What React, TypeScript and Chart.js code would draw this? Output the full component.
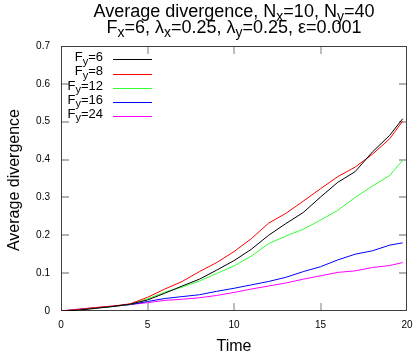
import React, { useEffect, useRef } from "react";
import { Chart, registerables } from "chart.js";

Chart.register(...registerables);

const times = [0, 1, 2, 3, 4, 5, 6, 7, 8, 9, 10, 11, 12, 13, 14, 15, 16, 17, 18, 19, 19.75];
const fy6 = [0, 0.002, 0.007, 0.012, 0.018, 0.029, 0.047, 0.066, 0.084, 0.108, 0.133, 0.163, 0.2, 0.231, 0.26, 0.301, 0.34, 0.368, 0.42, 0.464, 0.508];
const fy8 = [0, 0.004, 0.009, 0.013, 0.019, 0.036, 0.058, 0.078, 0.104, 0.128, 0.157, 0.191, 0.232, 0.258, 0.29, 0.323, 0.355, 0.38, 0.414, 0.455, 0.502];
const fy12 = [0, 0.003, 0.008, 0.012, 0.018, 0.032, 0.05, 0.063, 0.079, 0.099, 0.119, 0.145, 0.178, 0.198, 0.216, 0.24, 0.266, 0.3, 0.33, 0.358, 0.398];
const fy16 = [0, 0.004, 0.008, 0.012, 0.017, 0.025, 0.033, 0.038, 0.043, 0.052, 0.06, 0.069, 0.078, 0.089, 0.104, 0.117, 0.135, 0.15, 0.159, 0.174, 0.18];
const fy24 = [0, 0.005, 0.009, 0.013, 0.017, 0.022, 0.028, 0.031, 0.035, 0.041, 0.049, 0.058, 0.066, 0.074, 0.084, 0.093, 0.102, 0.106, 0.115, 0.12, 0.128];

const seriesLabels = ["6", "8", "12", "16", "24"];
const seriesColors = ["#000000", "#ff0000", "#33ff33", "#0000ff", "#ff00ff"];
const seriesData = [fy6, fy8, fy12, fy16, fy24];

const xTicks = [0, 5, 10, 15, 20];
const yTicks = [0, 0.1, 0.2, 0.3, 0.4, 0.5, 0.6, 0.7];

const FONT = "'Liberation Sans', Arial, sans-serif";

type Seg = { t: string; sub?: boolean };

function drawRich(ctx: CanvasRenderingContext2D, segs: Seg[], x: number, y: number, size: number, subSize: number, subDy: number, align: "center" | "right" | "left") {
  ctx.save();
  ctx.textBaseline = "alphabetic";
  ctx.textAlign = "left";
  let total = 0;
  for (const s of segs) {
    ctx.font = `${s.sub ? subSize : size}px ${FONT}`;
    total += ctx.measureText(s.t).width;
  }
  let cx = align === "center" ? x - total / 2 : align === "right" ? x - total : x;
  for (const s of segs) {
    ctx.font = `${s.sub ? subSize : size}px ${FONT}`;
    ctx.fillText(s.t, cx, s.sub ? y + subDy : y);
    cx += ctx.measureText(s.t).width;
  }
  ctx.restore();
}

const decorPlugin = {
  id: "decor",
  beforeDatasetsDraw(chart: any) {
    const { ctx, chartArea } = chart;
    const { left, right, top, bottom } = chartArea;
    const xs = chart.scales.x;
    const ys = chart.scales.y;
    ctx.save();
    ctx.strokeStyle = "#999999";
    ctx.lineWidth = 1.3;
    const tl = 8;
    for (const v of yTicks) {
      if (v === 0 || v === 0.7) continue;
      const py = Math.round(ys.getPixelForValue(v));
      ctx.beginPath();
      ctx.moveTo(left, py);
      ctx.lineTo(left + tl, py);
      ctx.moveTo(right, py);
      ctx.lineTo(right - tl, py);
      ctx.stroke();
    }
    for (const v of xTicks) {
      if (v === 0 || v === 20) continue;
      const px = Math.round(xs.getPixelForValue(v));
      ctx.beginPath();
      ctx.moveTo(px, bottom);
      ctx.lineTo(px, bottom - tl);
      ctx.moveTo(px, top);
      ctx.lineTo(px, top + tl);
      ctx.stroke();
    }
    ctx.strokeStyle = "#404040";
    ctx.lineWidth = 1;
    ctx.strokeRect(Math.round(left) + 0.5, Math.round(top) + 0.5, Math.round(right - left) - 1, Math.round(bottom - top) - 1);
    ctx.restore();
  },
  afterDraw(chart: any) {
    const { ctx, chartArea } = chart;
    const { left, right, top, bottom } = chartArea;
    const cx = (left + right) / 2;
    ctx.save();
    ctx.fillStyle = "#000000";
    drawRich(ctx, [
      { t: "Average divergence, N" }, { t: "x", sub: true }, { t: "=10, N" }, { t: "y", sub: true }, { t: "=40" },
    ], cx, 16.7, 18, 14, 4.5, "center");
    drawRich(ctx, [
      { t: "F" }, { t: "x", sub: true }, { t: "=6, λ" }, { t: "x", sub: true }, { t: "=0.25, λ" }, { t: "y", sub: true }, { t: "=0.25, ε=0.001" },
    ], cx, 32.5, 18, 14, 4.5, "center");

    // axis titles
    ctx.font = `16px ${FONT}`;
    ctx.textAlign = "center";
    ctx.textBaseline = "middle";
    ctx.fillText("Time", cx, 346.5);
    ctx.save();
    ctx.translate(14.5, (top + bottom) / 2 + 1.5);
    ctx.rotate(-Math.PI / 2);
    ctx.fillText("Average divergence", 0, 0);
    ctx.restore();

    // legend
    for (let i = 0; i < seriesLabels.length; i++) {
      const ly = 59.3 + 14.2 * i;
      ctx.fillStyle = "#000000";
      drawRich(ctx, [{ t: "F" }, { t: "y", sub: true }, { t: "=" + seriesLabels[i] }], 103, ly + 1.8, 13, 11, 3.5, "right");
      ctx.strokeStyle = seriesColors[i];
      ctx.lineWidth = 1;
      ctx.beginPath();
      ctx.moveTo(113, Math.round(ly) + 0.5);
      ctx.lineTo(152, Math.round(ly) + 0.5);
      ctx.stroke();
    }
    ctx.restore();
  },
};

export default function App() {
  const ref = useRef<HTMLCanvasElement | null>(null);
  useEffect(() => {
    document.body.style.margin = "0";
    const canvas = ref.current;
    if (!canvas) return;
    const chart = new Chart(canvas, {
      type: "line",
      data: {
        datasets: seriesData.map((arr, i) => ({
          label: "Fy=" + seriesLabels[i],
          data: times.map((t, j) => ({ x: t, y: arr[j] })),
          borderColor: seriesColors[i],
          borderWidth: 1,
          pointRadius: 0,
          tension: 0,
          fill: false,
        })),
      },
      options: {
        animation: false,
        responsive: false,
        devicePixelRatio: 1,
        events: [],
        layout: { padding: { left: 0, right: 8, top: 46, bottom: 0 } },
        plugins: { legend: { display: false }, title: { display: false }, tooltip: { enabled: false } },
        scales: {
          x: {
            type: "linear",
            min: 0,
            max: 20,
            afterFit: (s: any) => { s.height = 43; s.paddingRight = 0; s.paddingLeft = 0; },
            afterBuildTicks: (s: any) => { s.ticks = xTicks.map((v) => ({ value: v })); },
            grid: { display: false, drawTicks: false },
            border: { display: false },
            ticks: { padding: 8.5, color: "#000", font: { family: FONT, size: 10 }, maxRotation: 0, callback: (v: any) => String(v) },
          },
          y: {
            type: "linear",
            min: 0,
            max: 0.7,
            afterFit: (s: any) => { s.width = 61; s.paddingTop = 0; s.paddingBottom = 0; },
            afterBuildTicks: (s: any) => { s.ticks = yTicks.map((v) => ({ value: v })); },
            grid: { display: false, drawTicks: false },
            border: { display: false },
            ticks: { padding: 11, color: "#000", font: { family: FONT, size: 10 }, callback: (v: any) => (v === 0 ? "0" : Number(v).toFixed(1)) },
          },
        },
      },
      plugins: [decorPlugin],
    } as any);
    return () => chart.destroy();
  }, []);
  return (
    <div style={{ position: "absolute", left: 0, top: 0, width: 415, height: 354, background: "#fff" }}>
      <canvas ref={ref} width={415} height={354} style={{ display: "block" }} />
    </div>
  );
}
